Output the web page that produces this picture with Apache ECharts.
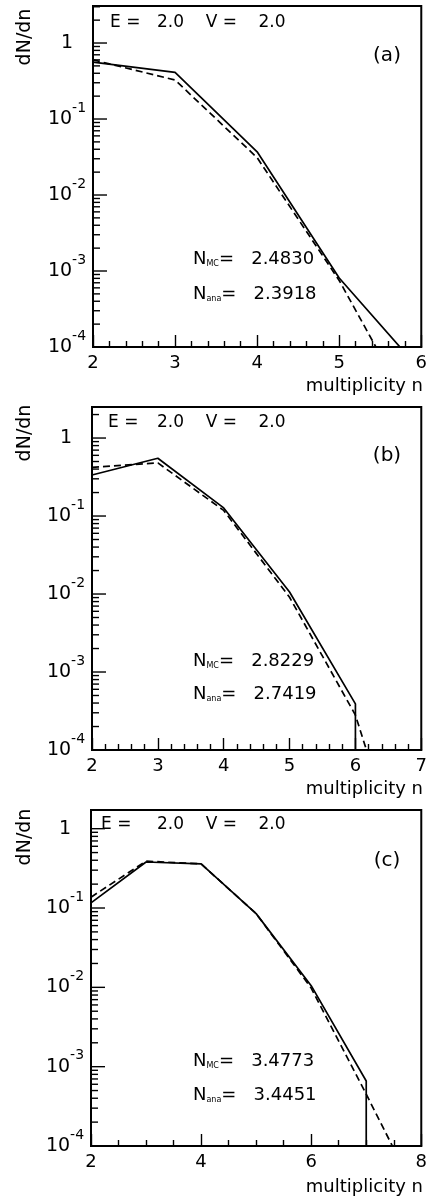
<!DOCTYPE html>
<html><head><meta charset="utf-8">
<script src="https://cdn.jsdelivr.net/npm/echarts@6/dist/echarts.min.js"></script>
<style>html,body{margin:0;padding:0;background:#fff}#c{width:430px;height:1199px}</style>
</head><body><div id="c"></div>
<script>
// ---- data ----
const nA = [2, 3, 4, 5, 6];
const mcA = [0.56, 0.41, 0.037, 0.00081, 0.000048];
const anaA = [0.60, 0.326, 0.031, 0.00075, 0.0000083];

const nB = [2, 3, 4, 5, 6, 7];
const mcB = [0.336, 0.55, 0.127, 0.0106, 0.00039, 0];
const anaB = [0.42, 0.48, 0.118, 0.0091, 0.00028, 0.0000006];

const nC = [2, 3, 4, 5, 6, 7, 8];
const mcC = [0.116, 0.38, 0.36, 0.085, 0.0105, 0.00066, 0];
const anaC = [0.137, 0.39, 0.36, 0.085, 0.0098, 0.00045, 0.000019];

const panelTags = ['(a)', '(b)', '(c)'];
const nMC = ['2.4830', '2.8229', '3.4773'];
const nAna = ['2.3918', '2.7419', '3.4451'];
const yTitle = 'dN/dn';
const xTitle = 'multiplicity n';

const xMin = [2, 2, 2];
const xMax = [6, 7, 8];
const xStep = [1, 1, 2];
const xMinorSplit = [5, 5, 4];
const yMin = [1e-4, 1e-4, 1e-4];
const yMax = [3.07, 2.5, 1.72];
const decadeTicks = [1e-4, 1e-3, 1e-2, 1e-1, 1];

// ---- layout ----
const FONT = 'DejaVu Sans';
const FLOOR = 1e-7; // zero entries drop to the bottom of the log axis
const grids = [
  {left: 93, top: 6, width: 334, height: 341},
  {left: 92, top: 407, width: 333, height: 343},
  {left: 91, top: 810, width: 333, height: 336}
];

function toData(ns, vs) {
  const out = [];
  for (let i = 0; i < ns.length; i++) {
    if (vs[i] === 0) out.push([ns[i - 1], FLOOR]);
    else out.push([ns[i], vs[i]]);
  }
  return out;
}

// log minor tick values 2..9 x 10^k inside the axis range
function minorTicks(maxV) {
  const out = [];
  decadeTicks.forEach(d => {
    for (let m = 2; m <= 9; m++) {
      const v = +(m * d).toPrecision(6);
      if (v < maxV) out.push(v);
    }
  });
  return out;
}

function yLabel(v) {
  const l = Math.log10(v);
  const e = Math.round(l);
  if (Math.abs(l - e) > 1e-6) return '';
  if (e === 0) return '{one|1}';
  return '{b|10}{s|' + e + '}';
}

const panels = [[nA, mcA, anaA], [nB, mcB, anaB], [nC, mcC, anaC]];

const baseGraphic = [].concat(...grids.map((g, i) => {
  const eX = [110, 108, 101][i];
  const eY = [23, 423, 825][i];
  const tagY = [56, 456, 861][i];
  const mcY = [258, 660, 1060][i];
  const anaY = [293, 693, 1094][i];
  const ytY = [37, 433, 837][i];
  const xtY = [386, 789, 1187][i];
  const t = (x, y, text, extra) => ({type: 'text', x: x, y: y, silent: true, z: 10,
    style: Object.assign({text: text, fill: '#000', font: '17px "' + FONT + '"', textAlign: 'left', textVerticalAlign: 'middle'}, extra || {})});
  const rich = {
    n: {fontFamily: FONT, fontSize: 18, lineHeight: 20, verticalAlign: 'bottom'},
    sub: {fontFamily: FONT, fontSize: 8, lineHeight: 20, verticalAlign: 'bottom'}
  };
  return [
    t(eX, eY, 'E ='),
    t(157, eY, '2.0    V =    2.0'),
    t(387, tagY, panelTags[i], {font: '20px "' + FONT + '"', textAlign: 'center'}),
    t(193, mcY, '{n|N}{sub|MC}{n|=   ' + nMC[i] + '}', {rich: rich}),
    t(193, anaY, '{n|N}{sub|ana}{n|=   ' + nAna[i] + '}', {rich: rich}),
    {type: 'text', x: 25, y: ytY, rotation: Math.PI / 2, silent: true,
     style: {text: yTitle, fill: '#000', font: '19px "' + FONT + '"', textAlign: 'center', textVerticalAlign: 'middle'}},
    t(423, xtY, xTitle, {font: '18px "' + FONT + '"', textAlign: 'right'})
  ];
}));

const option = {
  animation: false,
  backgroundColor: '#fff',
  textStyle: {fontFamily: FONT, color: '#000'},
  grid: grids.map(g => Object.assign({show: true, borderColor: '#000', borderWidth: 2, backgroundColor: 'transparent'}, g)),
  xAxis: grids.map((g, i) => ({
    type: 'value', gridIndex: i, min: xMin[i], max: xMax[i], interval: xStep[i],
    axisLine: {show: true, onZero: false, lineStyle: {color: '#000', width: 2}},
    axisTick: {show: true, inside: true, length: 12, lineStyle: {color: '#000', width: 1.4}},
    minorTick: {show: true, splitNumber: xMinorSplit[i], length: 6, lineStyle: {color: '#000', width: 1.4}},
    splitLine: {show: false},
    axisLabel: {color: '#000', fontFamily: FONT, fontSize: 18, margin: 7}
  })),
  yAxis: grids.map((g, i) => ({
    type: 'log', logBase: 10, gridIndex: i, min: yMin[i], max: yMax[i],
    axisLine: {show: true, lineStyle: {color: '#000', width: 2}},
    axisTick: {show: false},
    splitLine: {show: false},
    axisLabel: {
      formatter: yLabel, align: 'center', margin: 26, color: '#000',
      rich: {
        one: {fontFamily: FONT, fontSize: 19, color: '#000'},
        b: {fontFamily: FONT, fontSize: 19, lineHeight: 20, padding: [8, 0, 8, 0], color: '#000'},
        s: {fontFamily: FONT, fontSize: 14, lineHeight: 14, padding: [0, 0, 22, 0], color: '#000'}
      }
    }
  })),
  series: [].concat(...panels.map((p, i) => [
    {type: 'line', xAxisIndex: i, yAxisIndex: i, data: toData(p[0], p[1]), symbol: 'none',
     lineStyle: {color: '#000', width: 1.7, type: 'solid'}, clip: true, z: 3},
    {type: 'line', xAxisIndex: i, yAxisIndex: i, data: toData(p[0], p[2]), symbol: 'none',
     lineStyle: {color: '#000', width: 1.7, type: [7, 4]}, clip: true, z: 3}
  ])),
  graphic: baseGraphic
};

const chart = echarts.init(document.getElementById('c'), null, {renderer: 'canvas'});
chart.setOption(option);

// y-axis ticks (decades long, 2..9 short), positioned through the axis scale
const tickGraphic = [];
grids.forEach((g, i) => {
  const add = (v, len) => {
    const p = chart.convertToPixel({xAxisIndex: i, yAxisIndex: i}, [xMin[i], v]);
    if (!p || !isFinite(p[1])) return;
    tickGraphic.push({type: 'line', silent: true, z: 20,
      shape: {x1: p[0], y1: p[1], x2: p[0] + len, y2: p[1]},
      style: {stroke: '#000', lineWidth: 1.4}});
  };
  decadeTicks.forEach(v => add(v, 14));
  minorTicks(yMax[i]).forEach(v => add(v, 7));
});
chart.setOption({graphic: baseGraphic.concat(tickGraphic)});
</script>
</body></html>
